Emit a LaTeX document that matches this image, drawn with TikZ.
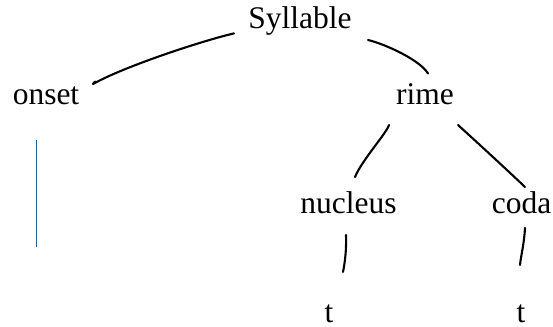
\documentclass[tikz,border=0pt]{standalone}
\usepackage{fontspec}
\setmainfont{Liberation Serif}
\definecolor{onsetblue}{RGB}{38,100,150}
\begin{document}
\begin{tikzpicture}[x=1pt,y=-1pt,
  word/.style={inner sep=0pt,anchor=base,font=\fontsize{31.5}{38}\selectfont},
  branch/.style={line width=2.1pt,line cap=round,line join=round},
  stem/.style={draw=onsetblue,line width=0.9pt}]
\useasboundingbox (0,0) rectangle (553,326);

% tree labels
\node[word] (syl)   at (300,29)    {Syllable};
\node[word] (onset) at (46,104)    {onset};
\node[word] (rime)  at (425,104)   {rime};
\node[word] (nuc)   at (348.5,213) {nucleus};
\node[word] (coda)  at (521.5,213) {coda};
\node[word] (tl)    at (329,322.5) {t};
\node[word] (tr)    at (521,322.5) {t};

% hand-drawn branches
\draw[branch] ([shift={(-66,4.4)}]syl.base) .. controls (205,40) and (125,66) ..
  ([shift={(47,-20)}]onset.base) -- ++(2,-2.5);
\draw[branch] ([shift={(68,11)}]syl.base) .. controls (385,44) and (420,60) ..
  ([shift={(3,-30.5)}]rime.base);
\draw[branch] ([shift={(-36,21)}]rime.base) .. controls (386,134) and (362,160) ..
  ([shift={(6.5,-36)}]nuc.base);
\draw[branch] ([shift={(33,21)}]rime.base) .. controls (480,145) and (505,168) ..
  ([shift={(3.5,-26)}]coda.base);
\draw[branch] ([shift={(-2.5,22)}]nuc.base) .. controls (346.5,250) and (345,262) ..
  ([shift={(14,-50.5)}]tl.base);
\draw[branch] ([shift={(3.5,15)}]coda.base) .. controls (524,245) and (521,255) ..
  ([shift={(-1,-57.5)}]tr.base);

% onset stem
\coordinate (stemtop) at ([shift={(-9.3,36)}]onset.base);
\coordinate (stembot) at ([shift={(-9.3,143)}]onset.base);
\draw[stem] (stemtop) -- (stembot);
\end{tikzpicture}
\end{document}
